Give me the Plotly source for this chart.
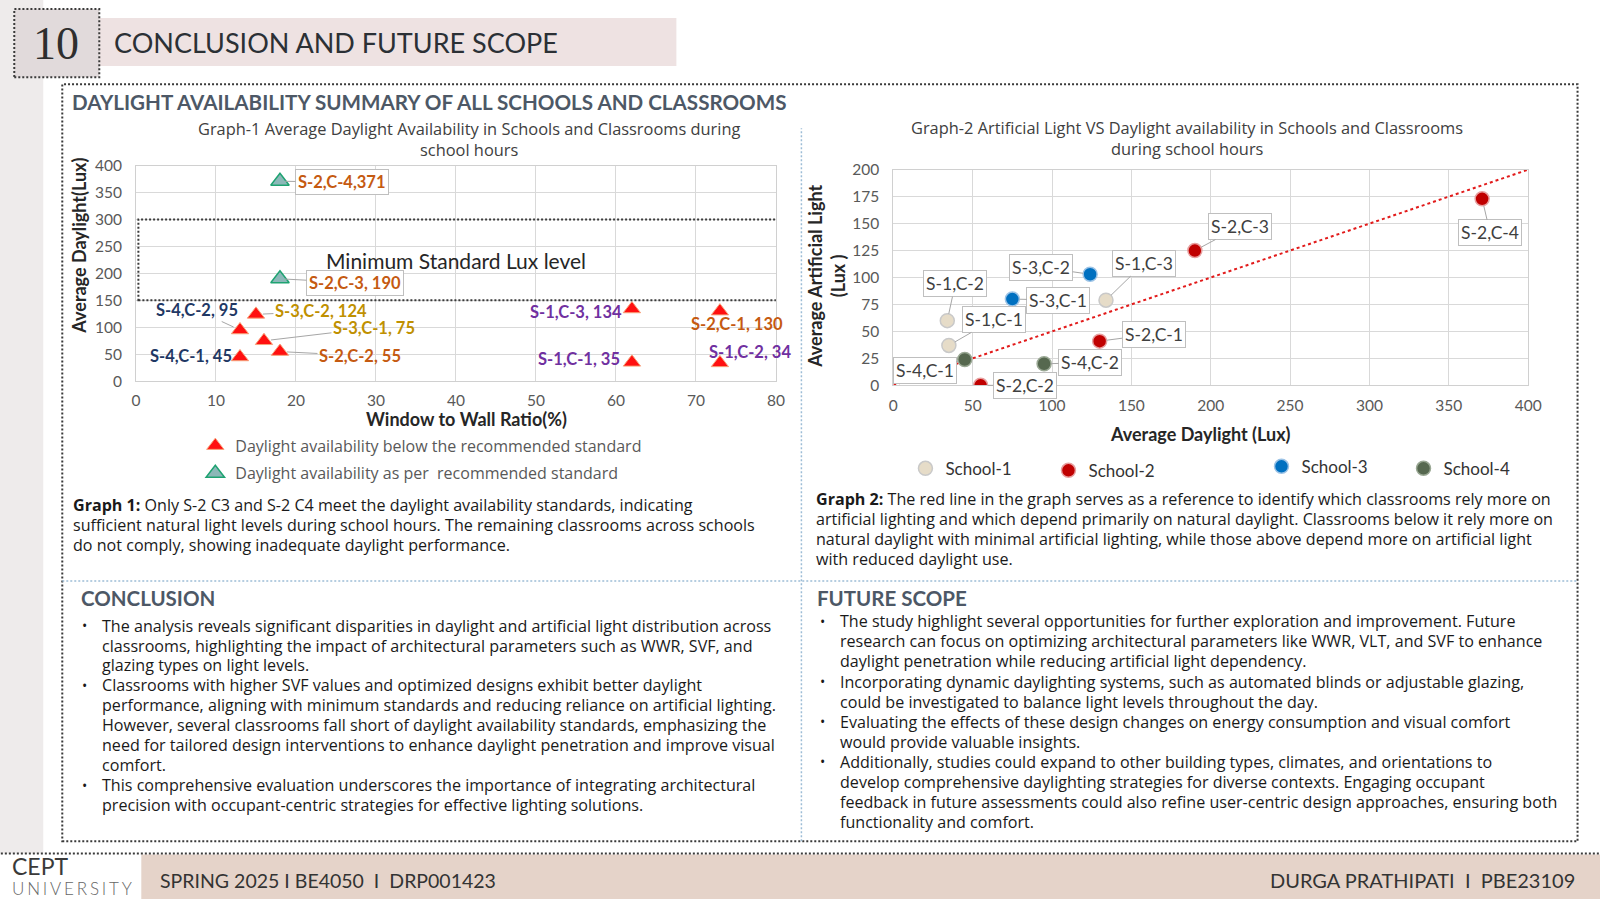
import plotly.graph_objects as go

PAGE_W, PAGE_H = 1600, 899
OFF = 0
W, H = PAGE_W - 2 * OFF, PAGE_H - 2 * OFF
FONT = "Lato, 'Open Sans', sans-serif"
BODY = "'Open Sans', Lato, sans-serif"
# empirical correction of the rendered page placement
SX, BX = 0.9892, 3.73
SY, BY = 0.9784, 9.97

# ---------------- Graph 1 data ----------------
g1_labels = ["S-2,C-4", "S-2,C-3", "S-4,C-2", "S-3,C-2", "S-3,C-1", "S-2,C-2",
             "S-4,C-1", "S-1,C-3", "S-1,C-1", "S-2,C-1", "S-1,C-2"]
g1_wwr = [18, 18, 13, 15, 16, 18, 13, 62, 62, 73, 73]
g1_daylight = [371, 190, 95, 124, 75, 55, 45, 134, 35, 130, 34]
g1_label_text = ["S-2,C-4,371", "S-2,C-3, 190", "S-4,C-2, 95", "S-3,C-2, 124",
                 "S-3,C-1, 75", "S-2,C-2, 55", "S-4,C-1, 45", "S-1,C-3, 134",
                 "S-1,C-1, 35", "S-2,C-1, 130", "S-1,C-2, 34"]
std_min, std_max = 150, 300
g1_xticks = [0, 10, 20, 30, 40, 50, 60, 70, 80]
g1_yticks = [0, 50, 100, 150, 200, 250, 300, 350, 400]

# ---------------- Graph 2 data ----------------
schools = ["School-1", "School-2", "School-3", "School-4"]
s_labels = [["S-1,C-1", "S-1,C-2", "S-1,C-3"],
            ["S-2,C-1", "S-2,C-2", "S-2,C-3", "S-2,C-4"],
            ["S-3,C-1", "S-3,C-2"],
            ["S-4,C-1", "S-4,C-2"]]
s_daylight = [[35, 34, 134], [130, 55, 190, 371], [75, 124], [45, 95]]
s_artificial = [[37, 60, 79], [41, 0, 125, 173], [80, 103], [24, 20]]
ref_daylight = [0, 400]
ref_artificial = [0, 200]
g2_xticks = [0, 50, 100, 150, 200, 250, 300, 350, 400]
g2_yticks = [0, 25, 50, 75, 100, 125, 150, 175, 200]

# ---------------- styles / positions (pixels) ----------------
school_label_color = {"S-1": "#7030A0", "S-2": "#C55A11", "S-3": "#BF9000", "S-4": "#1F3864"}
school_marker = {"School-1": ("#E6DCC8", "#C9C9C9"), "School-2": ("#C00000", "#E8A0A0"),
                 "School-3": ("#0070C0", "#9CC3E6"), "School-4": ("#56684F", "#9AA894")}
# label offset (dx, dy) in px, boxed?, leader line?
g1_label_pos = {
    "S-2,C-4": (62, 1, True, True), "S-2,C-3": (75, 4, True, True),
    "S-4,C-2": (-43, -20, False, True), "S-3,C-2": (65, -3, False, True),
    "S-3,C-1": (110, -13, False, True), "S-2,C-2": (80, 4, False, True),
    "S-4,C-1": (-49, -1, False, False), "S-1,C-3": (-56, 3, False, False),
    "S-1,C-1": (-53, -3, False, False), "S-2,C-1": (17, 13, False, False),
    "S-1,C-2": (30, -11, False, False)}
g2_label_pos = {
    "S-1,C-1": (45, -26), "S-1,C-2": (8, -37), "S-1,C-3": (38, -37),
    "S-2,C-1": (54, -7), "S-2,C-2": (44, 0), "S-2,C-3": (45, -24), "S-2,C-4": (8, 34),
    "S-3,C-1": (46, 1), "S-3,C-2": (-49, -7), "S-4,C-1": (-40, 11), "S-4,C-2": (46, -1)}


def PX(x):
    xi = (x - BX) / SX
    return (xi - OFF) / W


def PY(y):
    yi = (y - BY) / SY
    return 1 - (yi - OFF) / H


fig = go.Figure()

# Graph 1 traces
below_x = [x for x, d in zip(g1_wwr, g1_daylight) if d < std_min]
below_y = [d for d in g1_daylight if d < std_min]
ok_x = [x for x, d in zip(g1_wwr, g1_daylight) if d >= std_min]
ok_y = [d for d in g1_daylight if d >= std_min]
fig.add_trace(go.Scatter(x=below_x, y=below_y, mode="markers", xaxis="x", yaxis="y",
                         name="Daylight availability below the recommended standard",
                         legend="legend",
                         marker=dict(symbol="triangle-up", size=15, color="#FF1010",
                                     line=dict(color="#F7A27A", width=1))))
fig.add_trace(go.Scatter(x=ok_x, y=ok_y, mode="markers", xaxis="x", yaxis="y",
                         name="Daylight availability as per  recommended standard",
                         legend="legend2",
                         marker=dict(symbol="triangle-up", size=16, color="#8CB8B8",
                                     line=dict(color="#1FA372", width=1.5))))

# Graph 2 traces
fig.add_trace(go.Scatter(x=ref_daylight, y=ref_artificial, mode="lines", xaxis="x2", yaxis="y2",
                         showlegend=False, line=dict(color="#E21B1B", width=2, dash="dot")))
for i, sname in enumerate(schools):
    fc, lc = school_marker[sname]
    fig.add_trace(go.Scatter(x=s_daylight[i], y=s_artificial[i], mode="markers",
                             xaxis="x2", yaxis="y2", name=sname, legend="legend%d" % (i + 3),
                             marker=dict(symbol="circle", size=14, color=fc,
                                         line=dict(color=lc, width=1.5))))

ann = []


def txt(x, y, text, size=16, color="#1a1a1a", xanchor="left", angle=0, family=BODY, weight=None):
    f = dict(family=family, size=size, color=color)
    if weight is not None:
        f["weight"] = weight
    ann.append(dict(xref="paper", yref="paper", x=PX(x), y=PY(y), text=text, showarrow=False,
                    xanchor=xanchor, yanchor="middle", textangle=angle, font=f))


# Graph 1 labels
for lab, x, y, t in zip(g1_labels, g1_wwr, g1_daylight, g1_label_text):
    dx, dy, boxed, leader = g1_label_pos[lab]
    a = dict(xref="x", yref="y", x=x, y=y, text="<b>%s</b>" % t, showarrow=True,
             ax=dx, ay=dy, arrowhead=0, arrowwidth=1, standoff=7,
             arrowcolor="#A6A6A6" if leader else "rgba(0,0,0,0)",
             font=dict(family=FONT, size=16.5, color=school_label_color[lab[:3]]))
    if boxed:
        a.update(bordercolor="#BFBFBF", borderwidth=1, borderpad=2, bgcolor="white", standoff=5)
    ann.append(a)

# Graph 2 labels
for i in range(len(schools)):
    for lab, x, y in zip(s_labels[i], s_daylight[i], s_artificial[i]):
        dx, dy = g2_label_pos[lab]
        ann.append(dict(xref="x2", yref="y2", x=x, y=y, text=lab, showarrow=True,
                        ax=dx, ay=dy, arrowhead=0, arrowwidth=1, arrowcolor="#A6A6A6",
                        standoff=7, bordercolor="#BFBFBF", borderwidth=1, borderpad=2,
                        bgcolor="white", font=dict(family=FONT, size=17.5, color="#404040")))

# Header
txt(56, 43, "10", size=46, color="#2e2e2e", xanchor="center", family="'Liberation Serif', 'DejaVu Serif', serif")
txt(112, 42, "CONCLUSION AND FUTURE SCOPE", size=27, color="#2b3035", family=FONT)
txt(70, 102, "<b>DAYLIGHT AVAILABILITY SUMMARY OF ALL SCHOOLS AND CLASSROOMS</b>", size=20.6,
    color="#4d5866", family=FONT)

# Graph 1 texts
txt(469, 128.5, "Graph-1 Average Daylight Availability in Schools and Classrooms during", 16.4, "#404040", "center")
txt(469, 149, "school hours", 16.4, "#404040", "center")
txt(466, 418, "<b>Window to Wall Ratio(%)</b>", 18, "#262626", "center", family=FONT)
txt(79, 245, "<b>Average Daylight(Lux)</b>", 18, "#262626", "center", angle=-90, family=FONT)
ann.append(dict(xref="x", yref="y", x=40, y=224, text="Minimum Standard Lux level",
                showarrow=False, xanchor="center", yanchor="middle",
                font=dict(family=FONT, size=21, color="#262626")))

# Graph 2 texts
txt(1187, 127.5, "Graph-2 Artificial Light VS Daylight availability in Schools and Classrooms", 16.4, "#404040", "center")
txt(1187, 148, "during school hours", 16.4, "#404040", "center")
txt(1200, 433, "<b>Average Daylight (Lux)</b>", 18, "#262626", "center", family=FONT)
txt(826, 276, "<b>Average Artificial Light</b><br><b>(Lux )</b>", 18, "#262626", "center", angle=-90, family=FONT)

# Captions
cap1 = ["<b>Graph 1:</b> Only S-2 C3 and S-2 C4 meet the daylight availability standards, indicating",
        "sufficient natural light levels during school hours. The remaining classrooms across schools",
        "do not comply, showing inadequate daylight performance."]
for k, line in enumerate(cap1):
    txt(70.5, 504 + k * 20, line, 16.1)
cap2 = ["<b>Graph 2:</b> The red line in the graph serves as a reference to identify which classrooms rely more on",
        "artificial lighting and which depend primarily on natural daylight. Classrooms below it rely more on",
        "natural daylight with minimal artificial lighting, while those above depend more on artificial light",
        "with reduced daylight use."]
for k, line in enumerate(cap2):
    txt(814, 498 + k * 20, line, 16.1)

# Conclusion
txt(78.5, 597, "<b>CONCLUSION</b>", 20.5, "#4d5866", family=FONT)
concl = [
    ["The analysis reveals significant disparities in daylight and artificial light distribution across",
     "classrooms, highlighting the impact of architectural parameters such as WWR, SVF, and",
     "glazing types on light levels."],
    ["Classrooms with higher SVF values and optimized designs exhibit better daylight",
     "performance, aligning with minimum standards and reducing reliance on artificial lighting.",
     "However, several classrooms fall short of daylight availability standards, emphasizing the",
     "need for tailored design interventions to enhance daylight penetration and improve visual",
     "comfort."],
    ["This comprehensive evaluation underscores the importance of integrating architectural",
     "precision with occupant-centric strategies for effective lighting solutions."]]
row = 0
for bullet in concl:
    for j, line in enumerate(bullet):
        yy = 624.5 + row * 19.95
        if j == 0:
            txt(80, yy, "•", 14)
        txt(100, yy, line, 16.1)
        row += 1

# Future scope
txt(815, 597, "<b>FUTURE SCOPE</b>", 20.5, "#4d5866", family=FONT)
fut = [
    ["The study highlight several opportunities for further exploration and improvement. Future",
     "research can focus on optimizing architectural parameters like WWR, VLT, and SVF to enhance",
     "daylight penetration while reducing artificial light dependency."],
    ["Incorporating dynamic daylighting systems, such as automated blinds or adjustable glazing,",
     "could be investigated to balance light levels throughout the day."],
    ["Evaluating the effects of these design changes on energy consumption and visual comfort",
     "would provide valuable insights."],
    ["Additionally, studies could expand to other building types, climates, and orientations to",
     "develop comprehensive daylighting strategies for diverse contexts. Engaging occupant",
     "feedback in future assessments could also refine user-centric design approaches, ensuring both",
     "functionality and comfort."]]
row = 0
for bullet in fut:
    for j, line in enumerate(bullet):
        yy = 620.4 + row * 20.0
        if j == 0:
            txt(818, yy, "•", 14)
        txt(838, yy, line, 16.1)
        row += 1

# Footer
txt(10, 865, "CEPT", 23, "#3a3a3a", family=FONT)
txt(10, 887, "\u2006".join("UNIVERSITY"), 17, "#666666", family=FONT, weight=300)
txt(158, 879, "SPRING 2025 I BE4050 \u00a0I\u00a0 DRP001423", 19.5, "#333333", family=FONT)
txt(1576, 879, "DURGA PRATHIPATI \u00a0I\u00a0 PBE23109", 20, "#333333", "right", family=FONT)

# Shapes
shapes = [
    dict(type="rect", xref="paper", yref="paper", x0=-0.05, x1=PX(43), y0=PY(852), y1=1.05,
         fillcolor="#EEEBEB", line=dict(width=0), layer="below"),
    dict(type="rect", xref="paper", yref="paper", x0=PX(99), x1=PX(676), y0=PY(66), y1=PY(18),
         fillcolor="#EEE2E2", line=dict(width=0), layer="below"),
    dict(type="rect", xref="paper", yref="paper", x0=PX(14), x1=PX(99), y0=PY(77), y1=PY(9),
         fillcolor="#E1DADB", line=dict(color="#3a3a3a", width=2, dash="2px,2px"), layer="below"),
    dict(type="rect", xref="paper", yref="paper", x0=PX(62), x1=PX(1577), y0=PY(840), y1=PY(84),
         line=dict(color="#3a3a3a", width=2, dash="2px,2px"), layer="below"),
    dict(type="line", xref="paper", yref="paper", x0=PX(801), x1=PX(801), y0=PY(840), y1=PY(128),
         line=dict(color="#9DBDD6", width=1.5, dash="2px,2px"), layer="below"),
    dict(type="line", xref="paper", yref="paper", x0=PX(62), x1=PX(1577), y0=PY(580), y1=PY(580),
         line=dict(color="#9DBDD6", width=1.5, dash="2px,2px"), layer="below"),
    dict(type="rect", xref="paper", yref="paper", x0=PX(141), x1=1.05, y0=-0.05, y1=PY(853),
         fillcolor="#E5D3C9", line=dict(width=0), layer="below"),
    dict(type="line", xref="paper", yref="paper", x0=-0.05, x1=1.05, y0=PY(852), y1=PY(852),
         line=dict(color="#3a3a3a", width=2, dash="2px,2px"), layer="below"),
    dict(type="rect", xref="x", yref="y", x0=0.3, x1=80.3, y0=std_min, y1=std_max,
         line=dict(color="#3a3a3a", width=2, dash="2px,2px"), layer="above"),
]

axis_common = dict(showgrid=True, gridcolor="#D9D9D9", gridwidth=1, zeroline=False,
                   showline=True, linecolor="#D0D0D0", linewidth=1, mirror=True,
                   ticks="", tickfont=dict(family=FONT, size=15.5, color="#595959"),
                   fixedrange=True)


def legend_at(xt, yc, size=16, color="#595959", family=BODY):
    # xt: pixel where legend text should start
    return dict(x=PX(xt - 40), y=PY(yc), xanchor="left", yanchor="middle",
                bgcolor="rgba(0,0,0,0)", borderwidth=0,
                font=dict(family=family, size=size, color=color))


fig.update_layout(
    width=W, height=H, autosize=False,
    margin=dict(l=0, r=0, t=0, b=0, pad=0),
    paper_bgcolor="white", plot_bgcolor="white",
    font=dict(family=FONT),
    xaxis=dict(domain=[PX(135.7), PX(775.5)], range=[0, 80], tickvals=g1_xticks, anchor="y",
               ticklabelstandoff=5, **axis_common),
    yaxis=dict(domain=[PY(380.6), PY(165.3)], range=[0, 400], tickvals=g1_yticks, anchor="x",
               ticklabelstandoff=10, **axis_common),
    xaxis2=dict(domain=[PX(892.9), PX(1527.6)], range=[0, 400], tickvals=g2_xticks, anchor="y2",
                ticklabelstandoff=6, **axis_common),
    yaxis2=dict(domain=[PY(384.7), PY(169.4)], range=[0, 200], tickvals=g2_yticks, anchor="x2",
                ticklabelstandoff=10, **axis_common),
    legend=legend_at(235, 445),
    legend2=legend_at(235, 472.5),
    legend3=legend_at(945, 468, 17, "#333333", FONT),
    legend4=legend_at(1088, 470, 17, "#333333", FONT),
    legend5=legend_at(1301, 466, 17, "#333333", FONT),
    legend6=legend_at(1443, 468, 17, "#333333", FONT),
    annotations=ann,
    shapes=shapes,
    showlegend=True,
)

fig.write_html("out.html", config={"displayModeBar": False},
               post_script="document.body.style.margin='0px';document.body.style.overflow='hidden';")
